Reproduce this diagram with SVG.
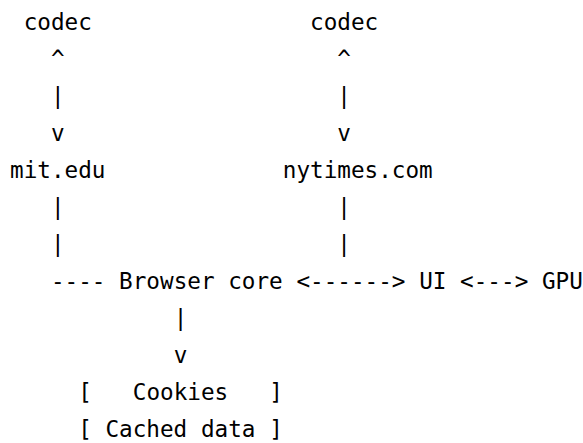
<svg xmlns="http://www.w3.org/2000/svg" width="583" height="443" viewBox="0 0 583 443">
<style>
text{font-family:"DejaVu Sans Mono","Liberation Mono",monospace;font-size:22.65px;fill:#000}
</style>
<rect width="583" height="443" fill="#fff"/>
<g id="codec-left"><text x="23.64" y="30">codec</text></g>
<g id="codec-right"><text x="310.08" y="30">codec</text></g>
<g id="mit-edu"><text x="10" y="178">mit.edu</text></g>
<g id="nytimes-com"><text x="282.8" y="178">nytimes.com</text></g>
<g id="browser-core"><text x="119.12" y="289">Browser core</text></g>
<g id="ui"><text x="419.2" y="289">UI</text></g>
<g id="gpu"><text x="541.96" y="289">GPU</text></g>
<g id="storage">
<text x="78.2" y="400">[</text><text x="132.76" y="400">Cookies</text><text x="269.16" y="400">]</text>
<text x="78.2" y="437">[</text><text x="105.48" y="437">Cached data</text><text x="269.16" y="437">]</text>
</g>
<g id="connectors">
<text x="50.92" y="67">^</text><text x="337.36" y="67">^</text>
<text x="50.92" y="104">|</text><text x="337.36" y="104">|</text>
<text x="50.92" y="141">v</text><text x="337.36" y="141">v</text>
<text x="50.92" y="215">|</text><text x="337.36" y="215">|</text>
<text x="50.92" y="252">|</text><text x="337.36" y="252">|</text>
<text x="50.92" y="289">----</text>
<text x="296.44" y="289">&lt;------&gt;</text>
<text x="460.12" y="289">&lt;---&gt;</text>
<text x="173.68" y="326">|</text>
<text x="173.68" y="363">v</text>
</g>
</svg>
